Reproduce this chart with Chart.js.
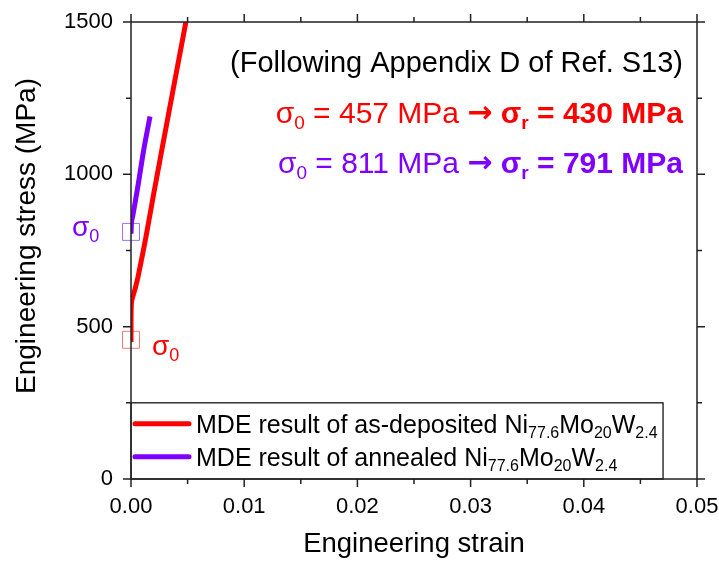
<!DOCTYPE html>
<html>
<head>
<meta charset="utf-8">
<script src="https://cdn.jsdelivr.net/npm/chart.js@4/dist/chart.umd.min.js"></script>
<style>
  html, body { margin: 0; padding: 0; background: #fff; }
  canvas { display: block; }
</style>
</head>
<body>
<canvas id="stress_chart" width="719" height="561"></canvas>
<script>
const FONT = '"Liberation Sans", Arial, sans-serif';

// curves (strain, MPa)
const redStrain = [0, 0.000005, 0.00002, 0.00005, 0.00012, 0.00025, 0.0004, 0.0006, 0.0009, 0.0013, 0.002, 0.003, 0.004, 0.00485];
const redStress = [450, 520, 562, 580, 594, 610, 630, 660, 715, 790, 935, 1135, 1333, 1500];
const purpleStrain = [0, 0.00003, 0.00015, 0.0004, 0.00065, 0.0011, 0.00168];
const purpleStress = [805, 835, 862, 915, 970, 1075, 1190];

const sigma0 = [457, 811];
const sigmaR = [430, 791];
const seriesColors = ['#ff0000', '#7f00ff'];
const markerColors = ['#f07878', '#a070ff'];

const xTicks = [0, 0.01, 0.02, 0.03, 0.04, 0.05];
const xMinor = [0.005, 0.015, 0.025, 0.035, 0.045];
const yTicks = [0, 500, 1000, 1500];
const yMinor = [250, 750, 1250];

// legend text: normal / subscript parts alternate
const legendText = [
    ['MDE result of as-deposited Ni', '77.6', 'Mo', '20', 'W', '2.4'],
    ['MDE result of annealed Ni', '77.6', 'Mo', '20', 'W', '2.4']
];

const toPoints = (xs, ys) => xs.map((x, i) => ({ x: x, y: ys[i] }));

// draw a run of text pieces: {t, bold, sub, color, family, size}
function drawRich(ctx, parts, x, y, size, align) {
    const fontOf = p => {
        const s = p.size || size;
        return (p.bold ? 'bold ' : '') + Math.round(p.sub ? s * 0.64 : s) + 'px ' + (p.family || FONT);
    };
    let total = 0;
    parts.forEach(p => { ctx.font = fontOf(p); total += ctx.measureText(p.t).width; });
    let cx = align === 'right' ? x - total : x;
    ctx.textAlign = 'left';
    ctx.textBaseline = 'alphabetic';
    parts.forEach(p => {
        ctx.font = fontOf(p);
        ctx.fillStyle = p.color || '#000';
        ctx.fillText(p.t, cx, (p.sub ? y + size * 0.22 : y) + (p.dy || 0));
        cx += ctx.measureText(p.t).width;
    });
}

const noScalePadding = s => { s.paddingTop = 0; s.paddingBottom = 0; s.paddingLeft = 0; s.paddingRight = 0; };

const framePlugin = {
    id: 'frame',
    afterDatasetsDraw(chart) {
        const ctx = chart.ctx;
        const xs = chart.scales.x, ys = chart.scales.y;
        const a = chart.chartArea;
        ctx.save();

        // legend box
        const lx0 = a.left, lx1 = xs.getPixelForValue(0.047);
        const ly0 = ys.getPixelForValue(250), ly1 = a.bottom;
        ctx.fillStyle = '#fff';
        ctx.fillRect(lx0, ly0, lx1 - lx0, ly1 - ly0);
        ctx.strokeStyle = '#000';
        ctx.lineWidth = 1.2;
        ctx.strokeRect(lx0, ly0, lx1 - lx0, ly1 - ly0);
        const rowY = [ly0 + 21, ly0 + 54];
        legendText.forEach((parts, i) => {
            ctx.strokeStyle = seriesColors[i];
            ctx.lineWidth = 5;
            ctx.lineCap = 'round';
            ctx.beginPath();
            ctx.moveTo(lx0 + 4, rowY[i]);
            ctx.lineTo(lx0 + 58, rowY[i]);
            ctx.stroke();
            drawRich(ctx, parts.map((t, k) => ({ t: t, sub: k % 2 === 1 })), lx0 + 65, rowY[i] + 9, 25, 'left');
        });

        // frame and ticks on all four sides
        ctx.strokeStyle = '#222';
        ctx.lineWidth = 1.5;
        ctx.lineCap = 'butt';
        ctx.strokeRect(a.left, a.top, a.right - a.left, a.bottom - a.top);
        ctx.beginPath();
        const tickX = (vals, len) => {
            vals.forEach(v => {
                const px = xs.getPixelForValue(v);
                ctx.moveTo(px, a.bottom); ctx.lineTo(px, a.bottom + len);
                ctx.moveTo(px, a.top); ctx.lineTo(px, a.top - len);
            });
        };
        const tickY = (vals, len) => {
            vals.forEach(v => {
                const py = ys.getPixelForValue(v);
                ctx.moveTo(a.left, py); ctx.lineTo(a.left - len, py);
                ctx.moveTo(a.right, py); ctx.lineTo(a.right + len, py);
            });
        };
        tickX(xTicks, 8); tickX(xMinor, 5);
        tickY(yTicks, 8); tickY(yMinor, 5);
        ctx.stroke();

        // y axis title
        ctx.save();
        ctx.translate(35, 236);
        ctx.rotate(-Math.PI / 2);
        ctx.font = '28px ' + FONT;
        ctx.fillStyle = '#000';
        ctx.textAlign = 'center';
        ctx.textBaseline = 'alphabetic';
        ctx.fillText('Engineering stress (MPa)', 0, 0);
        ctx.restore();

        // annotations
        drawRich(ctx, [{ t: '(Following Appendix D of Ref. S13)' }], a.right - 14, 72, 29, 'right');
        sigma0.forEach((s0, i) => {
            const c = i === 1 ? '#8000ff' : '#ff0000';
            drawRich(ctx, [
                { t: '\u03c3', color: c }, { t: '0', sub: true, color: c },
                { t: ' = ' + s0 + ' MPa ', color: c },
                { t: '\u2192', bold: true, color: c, family: '"DejaVu Sans"', size: 30, dy: -1 },
                { t: ' \u03c3', bold: true, color: c }, { t: 'r', sub: true, bold: true, color: c },
                { t: ' = ' + sigmaR[i] + ' MPa', bold: true, color: c }
            ], a.right - 14, 123 + i * 50, 29.5, 'right');
        });
        drawRich(ctx, [{ t: '\u03c3', color: '#8000ff' }, { t: '0', sub: true, color: '#8000ff' }],
            72, ys.getPixelForValue(sigma0[1]) + 4, 28, 'left');
        drawRich(ctx, [{ t: '\u03c3', color: '#ff0000' }, { t: '0', sub: true, color: '#ff0000' }],
            152, ys.getPixelForValue(sigma0[0]) + 15, 28, 'left');
        ctx.restore();
    }
};

const ctx = document.getElementById('stress_chart').getContext('2d');
const chart = new Chart(ctx, {
    type: 'scatter',
    data: {
        datasets: [
            {
                label: 'as-deposited',
                data: toPoints(redStrain, redStress),
                showLine: true, borderColor: seriesColors[0], borderWidth: 5,
                pointRadius: 0, cubicInterpolationMode: 'monotone'
            },
            {
                label: 'annealed',
                data: toPoints(purpleStrain, purpleStress),
                showLine: true, borderColor: seriesColors[1], borderWidth: 5,
                pointRadius: 0, cubicInterpolationMode: 'monotone'
            },
            {
                label: 'sigma0',
                data: [{ x: 0, y: sigma0[0] }, { x: 0, y: sigma0[1] }],
                pointStyle: 'rect', pointRadius: 12, borderWidth: 1,
                backgroundColor: 'rgba(0,0,0,0)', pointBorderColor: markerColors,
                clip: false
            }
        ]
    },
    options: {
        responsive: false,
        animation: false,
        layout: { padding: { top: 22, right: 22, left: 0, bottom: 0 } },
        plugins: { legend: { display: false }, tooltip: { enabled: false } },
        scales: {
            x: {
                type: 'linear', min: 0, max: 0.05,
                afterBuildTicks: s => { s.ticks = xTicks.map(v => ({ value: v })); },
                afterFit: s => { s.height = 82; noScalePadding(s); },
                grid: { display: false, drawTicks: false },
                border: { display: false },
                ticks: { color: '#000', padding: 15, font: { family: FONT, size: 22 }, callback: v => v.toFixed(2) },
                title: { display: true, text: 'Engineering strain', color: '#000', font: { family: FONT, size: 27.5 }, padding: { top: 0, bottom: 0 } }
            },
            y: {
                type: 'linear', min: 0, max: 1500,
                afterBuildTicks: s => { s.ticks = yTicks.map(v => ({ value: v })); },
                afterFit: s => { s.width = 131; noScalePadding(s); },
                grid: { display: false, drawTicks: false },
                border: { display: false },
                ticks: { color: '#000', padding: 18, font: { family: FONT, size: 22 }, callback: v => String(v) }
            }
        }
    },
    plugins: [framePlugin]
});
</script>
</body>
</html>
